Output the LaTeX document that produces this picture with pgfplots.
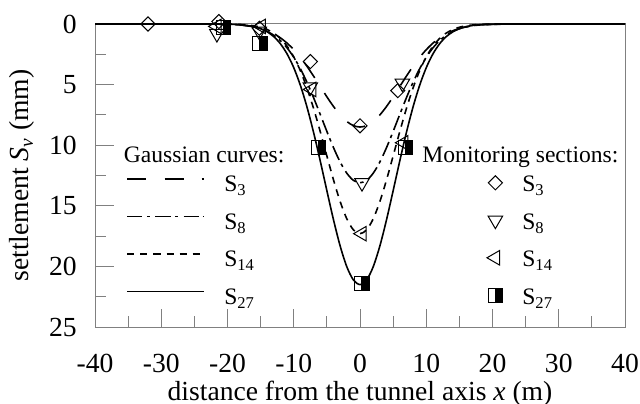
\documentclass[border=0pt]{standalone}
\usepackage{pgfplots}
\pgfplotsset{compat=1.18}
\usepackage{fontspec}
\setmainfont{Liberation Serif}

% square marker: right half filled, full outline
\pgfdeclareplotmark{halfsquare}{%
  \pgfpathrectangle{\pgfqpoint{0pt}{-\pgfplotmarksize}}{\pgfqpoint{\pgfplotmarksize}{2\pgfplotmarksize}}%
  \pgfusepathqfillstroke
  \pgfpathrectangle{\pgfqpoint{-\pgfplotmarksize}{-\pgfplotmarksize}}{\pgfqpoint{2\pgfplotmarksize}{2\pgfplotmarksize}}%
  \pgfusepathqstroke
}

\newcommand\bigfont{\fontsize{13.8pt}{16pt}\selectfont}
\newcommand\lgdfont{\fontsize{11.8pt}{14pt}\selectfont}

\pgfplotsset{
  frame/.style={
    scale only axis, width=265pt, height=151.5pt,
    xmin=-40, xmax=40, ymin=0, ymax=25, y dir=reverse, clip=false,
  },
  lgd/.style={
    legend cell align=left,
    legend style={draw=none, fill=none, inner sep=0pt, outer sep=0pt,
      row sep=6.75pt, font=\lgdfont,
      nodes={inner sep=0pt, outer sep=0pt, text height=9pt, text depth=3pt}},
  },
}

\begin{document}
\begin{tikzpicture}[font=\lgdfont]
% settlement troughs (Gaussian fits)
\begin{axis}[frame, lgd, name=main,
  axis line style={black!50, line width=0.5pt},
  tick style={black!50, line width=0.5pt},
  tick align=inside, major tick length=9.25pt, minor tick length=5.5pt,
  xtick={-40,-30,...,40}, minor xtick={-35,-25,...,35},
  xticklabels={-40,-30,-20,-10,0,10,20,30,40},
  ytick={0,5,...,25}, minor ytick={2.5,7.5,...,22.5},
  yticklabels={0,5,10,15,20,25},
  xtick pos=bottom, ytick pos=left,
  ticklabel style={font=\bigfont},
  label style={font=\bigfont},
  xticklabel style={inner sep=0pt, yshift=-13.2pt},
  yticklabel style={inner sep=0pt, xshift=-9pt},
  xlabel={distance from the tunnel axis \textit{x} (m)},
  ylabel={settlement \textit{S}\textsubscript{\textit{v}} (mm)},
  xlabel style={at={(axis description cs:0.5,0)}, anchor=base, inner sep=0pt,
    text depth=0pt, yshift=-36.5pt},
  ylabel style={at={(axis description cs:-0.1377,0.5)}, anchor=center, inner sep=0pt},
  legend style={at={(axis description cs:0.0598,0.505)}, anchor=north west, column sep=9.7pt},
  legend image code/.code={\draw[#1] (0pt,3.5pt) -- (38.3pt,3.5pt);},
]
\addplot[black, line width=0.8pt, smooth, dash pattern=on 9.5pt off 9pt] coordinates {
(-40,0) (-25,0.001) (-22,0.010) (-20,0.033) (-19,0.057) (-18,0.094) (-17,0.154)
(-16,0.243) (-15,0.373) (-14,0.559) (-13,0.813) (-12,1.150) (-11,1.583) (-10,2.119)
(-9,2.760) (-8,3.494) (-7,4.304) (-6,5.156) (-5,6.007) (-4,6.806) (-3,7.501)
(-2,8.041) (-1,8.383) (0,8.5) (1,8.383) (2,8.041) (3,7.501) (4,6.806) (5,6.007)
(6,5.156) (7,4.304) (8,3.494) (9,2.760) (10,2.119) (11,1.583) (12,1.150) (13,0.813)
(14,0.559) (15,0.373) (16,0.243) (17,0.154) (18,0.094) (19,0.057) (20,0.033)
(22,0.010) (25,0.001) (40,0)};
\addlegendentry{S\textsubscript{3}}
\addplot[black, line width=0.8pt, smooth, dash pattern=on 7.5pt off 2.2pt on 1.7pt off 2.6pt] coordinates {
(-40,0) (-25,0.001) (-22,0.007) (-20,0.025) (-19,0.047) (-18,0.083) (-17,0.143)
(-16,0.240) (-15,0.389) (-14,0.613) (-13,0.934) (-12,1.381) (-11,1.978) (-10,2.746)
(-9,3.695) (-8,4.819) (-7,6.092) (-6,7.464) (-5,8.865) (-4,10.202) (-3,11.382)
(-2,12.306) (-1,12.897) (0,13.1) (1,12.897) (2,12.306) (3,11.382) (4,10.202) (5,8.865)
(6,7.464) (7,6.092) (8,4.819) (9,3.695) (10,2.746) (11,1.978) (12,1.381) (13,0.934)
(14,0.613) (15,0.389) (16,0.240) (17,0.143) (18,0.083) (19,0.047) (20,0.025)
(22,0.007) (25,0.001) (40,0)};
\addlegendentry{S\textsubscript{8}}
\addplot[black, line width=0.8pt, smooth, dash pattern=on 3.5pt off 3pt] coordinates {
(-40,0) (-22,0.002) (-20,0.011) (-19,0.022) (-18,0.043) (-17,0.082)
(-16,0.151) (-15,0.268) (-14,0.459) (-13,0.757) (-12,1.202) (-11,1.841) (-10,2.715)
(-9,3.860) (-8,5.289) (-7,6.982) (-6,8.882) (-5,10.889) (-4,12.864) (-3,14.644)
(-2,16.065) (-1,16.983) (0,17.3) (1,16.983) (2,16.065) (3,14.644) (4,12.864) (5,10.889)
(6,8.882) (7,6.982) (8,5.289) (9,3.860) (10,2.715) (11,1.841) (12,1.202) (13,0.757)
(14,0.459) (15,0.268) (16,0.151) (17,0.082) (18,0.043) (19,0.022) (20,0.011)
(22,0.002) (40,0)};
\addlegendentry{S\textsubscript{14}}
\addplot[black, line width=0.8pt, smooth] coordinates {
(-40,0) (-22,0.004) (-20,0.017) (-19,0.034) (-18,0.066) (-17,0.123)
(-16,0.222) (-15,0.387) (-14,0.649) (-13,1.051) (-12,1.643) (-11,2.477) (-10,3.604)
(-9,5.061) (-8,6.856) (-7,8.962) (-6,11.304) (-5,13.758) (-4,16.157) (-3,18.308)
(-2,20.018) (-1,21.119) (0,21.5) (1,21.119) (2,20.018) (3,18.308) (4,16.157) (5,13.758)
(6,11.304) (7,8.962) (8,6.856) (9,5.061) (10,3.604) (11,2.477) (12,1.643) (13,1.051)
(14,0.649) (15,0.387) (16,0.222) (17,0.123) (18,0.066) (19,0.034) (20,0.017)
(22,0.004) (40,0)};
\addlegendentry{S\textsubscript{27}}
\node[anchor=base west, inner sep=0pt] at (axis cs:-35.7,11.45) {Gaussian curves:};
\end{axis}

% measured settlements
\begin{axis}[frame, lgd, hide axis,
  legend style={at={(axis description cs:0.732,0.505)}, anchor=north west, column sep=7.3pt},
  legend image code/.code={\path (-6pt,0pt) (6pt,0pt); \draw[#1] plot coordinates {(0pt,1.6pt)};},
]
\addplot[only marks, mark=square, mark size=2.5pt, mark options={rotate=45, line width=0.5pt, fill=none}] coordinates {
(-32,0) (-21.3,-0.2) (-15.2,0.35) (-7.5,3.1) (0,8.4) (5.7,5.5)};
\addlegendentry{S\textsubscript{3}}
\addplot[only marks, mark=triangle, mark size=4.2pt, mark options={rotate=180, line width=0.5pt, fill=none}] coordinates {
(-21.6,0.8) (-15.2,0.6) (-7.5,5.2) (0.3,13.1) (6.4,4.9)};
\addlegendentry{S\textsubscript{8}}
\addplot[only marks, mark=triangle, mark size=4.2pt, mark options={rotate=90, line width=0.5pt, fill=none}] coordinates {
(-21.6,0.2) (-14.9,0.2) (-7.3,5.4) (0.3,17.3) (6.6,9.8)};
\addlegendentry{S\textsubscript{14}}
\addplot[only marks, mark=halfsquare, mark size=3.6pt, mark options={line width=0.5pt, draw=black, fill=black}] coordinates {
(-20.6,0.3) (-15.1,1.6) (-6.3,10.2) (0.3,21.4) (6.9,10.2)};
\addlegendentry{S\textsubscript{27}}
\node[anchor=base west, inner sep=0pt] at (axis cs:9.36,11.4) {Monitoring sections:};
\end{axis}

\path ([xshift=-47.5pt,yshift=-38pt]main.south west) rectangle ([xshift=7.5pt,yshift=12pt]main.north east);
\end{tikzpicture}
\end{document}
